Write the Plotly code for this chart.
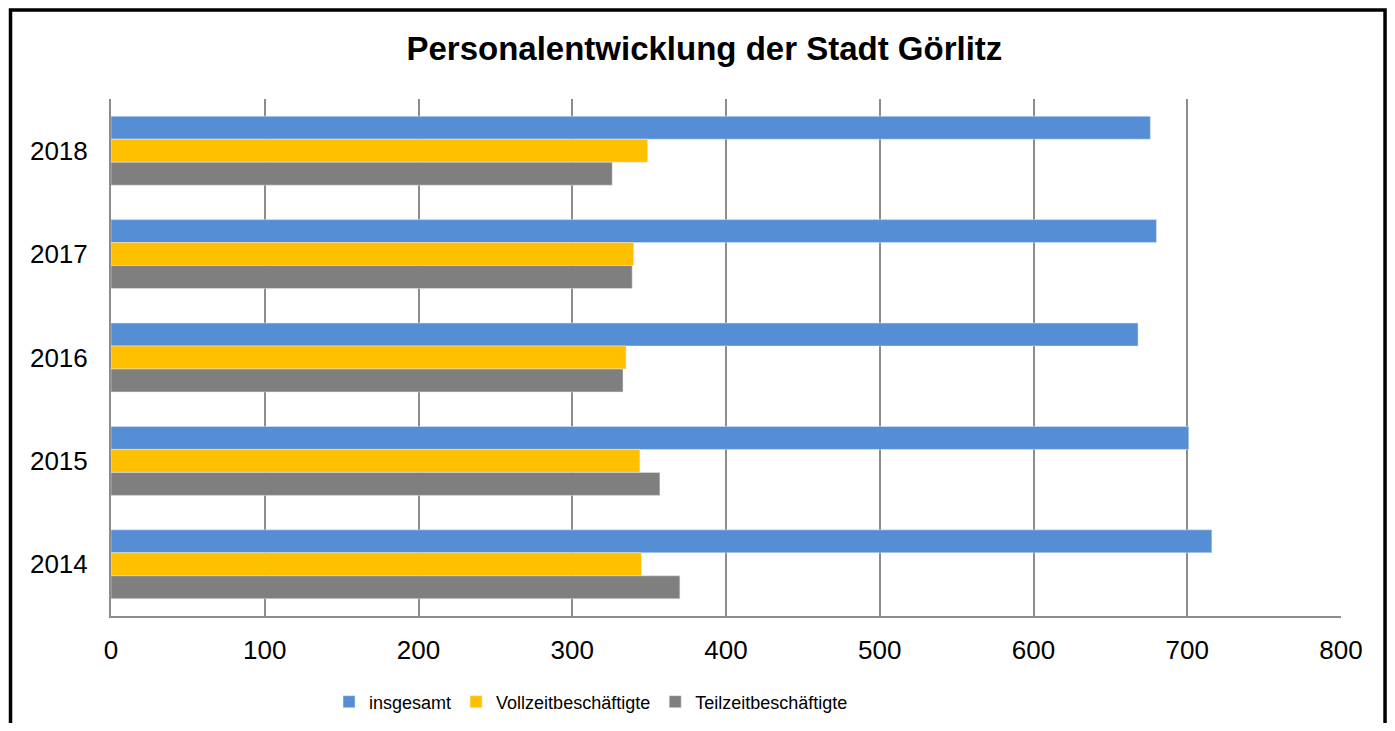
import plotly.graph_objects as go

years = ["2018", "2017", "2016", "2015", "2014"]
insgesamt = [676, 680, 668, 701, 716]
vollzeit = [349, 340, 335, 344, 345]
teilzeit = [326, 339, 333, 357, 370]

font_family = "Arial, Liberation Sans, sans-serif"

fig = go.Figure()

fig.add_trace(go.Bar(
    y=years, x=insgesamt, orientation="h",
    name="insgesamt",
    marker=dict(color="#558ED5")))

fig.add_trace(go.Bar(
    y=years, x=vollzeit, orientation="h",
    name="Vollzeitbeschäftigte",
    marker=dict(color="#FFC000")))

fig.add_trace(go.Bar(
    y=years, x=teilzeit, orientation="h",
    name="Teilzeitbeschäftigte",
    marker=dict(color="#7F7F7F")))

# outer black frame around the whole chart
fig.add_shape(type="rect", xref="paper", yref="paper",
              x0=-0.0817, x1=1.0358, y0=-0.4, y1=1.172,
              line=dict(color="black", width=3.5), layer="above")

# page body has an 8px margin, keep the figure inside the window (no scrollbars)
fig.update_layout(
    width=1379, height=715,
    margin=dict(l=103, r=46, t=91, b=107),
    paper_bgcolor="white", plot_bgcolor="white",
    font=dict(family=font_family, color="black"),
    title=dict(text="<b>Personalentwicklung der Stadt Görlitz</b>",
               x=0.505, xanchor="center", y=0.944, yanchor="middle",
               font=dict(size=33, color="black")),
    barmode="group", bargap=0.333, bargroupgap=0,
    legend=dict(orientation="h", xref="container", yref="container",
                x=0.4228, xanchor="center", y=0.0294, yanchor="middle",
                font=dict(size=18), itemwidth=30,
                traceorder="normal"),
    xaxis=dict(range=[0, 800], dtick=100, showgrid=True,
               gridcolor="#8C8C8C", gridwidth=2,
               showline=True, linecolor="#8C8C8C", linewidth=2,
               zeroline=False, ticks="", ticklabelstandoff=10,
               tickfont=dict(size=26)),
    yaxis=dict(autorange="reversed", showgrid=False,
               showline=True, linecolor="#8C8C8C", linewidth=2,
               ticks="", ticklabelstandoff=16,
               tickfont=dict(size=26)),
)

fig.write_html("out.html")
